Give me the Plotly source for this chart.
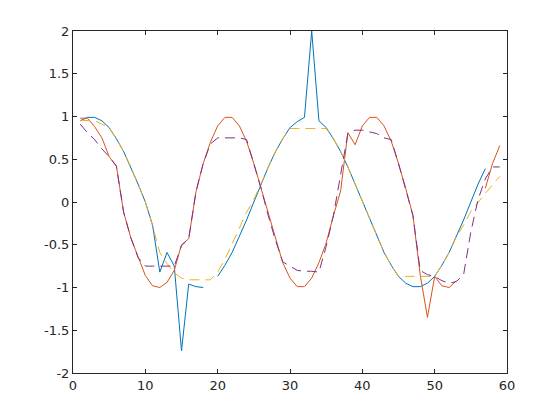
import plotly.graph_objects as go

x = list(range(1, 60))

blue = [0.95, 0.99, 0.99, 0.95, 0.87, 0.74, 0.59, 0.41, 0.21, 0.0,
        -0.27, -0.82, -0.59, -0.75, -1.74, -0.96, -0.99, -1.0, None, -0.87,
        -0.74, -0.59, -0.41, -0.21, 0.0, 0.21, 0.41, 0.59, 0.74, 0.87,
        0.94, 0.99, 2.0, 0.95, 0.87, 0.74, 0.59, 0.41, 0.21, 0.0,
        -0.21, -0.41, -0.59, -0.74, -0.87, -0.95, -0.99, -0.99, -0.95, -0.87,
        -0.74, -0.59, -0.41, -0.21, 0.0, 0.21, 0.39, None, None]

red = [0.98, 0.98, 0.88, 0.75, 0.53, 0.42, -0.12, -0.42, -0.64, -0.86,
       -0.98, -1.0, -0.94, -0.8, -0.5, -0.43, 0.12, 0.45, 0.7, 0.89,
       0.99, 0.99, 0.89, 0.71, 0.45, 0.16, -0.16, -0.45, -0.71, -0.89,
       -0.99, -0.99, -0.89, -0.71, -0.48, -0.16, 0.13, 0.81, 0.67, 0.89,
       0.99, 0.99, 0.89, 0.71, 0.45, 0.16, -0.16, -0.85, -1.35, -0.87,
       -0.98, -1.0, -0.92, None, None, None, 0.16, 0.45, 0.66]

yellow = [0.955, 0.955, 0.95, 0.91, 0.87, 0.74, 0.59, 0.41, 0.21, 0.0,
          -0.28, -0.59, -0.72, -0.83, -0.89, -0.91, -0.91, -0.91, -0.91, -0.82,
          -0.67, -0.49, -0.31, -0.12, 0.03, 0.21, 0.41, 0.59, 0.74, 0.86,
          0.86, 0.86, 0.86, 0.86, 0.86, 0.74, 0.59, 0.41, 0.21, 0.0,
          -0.21, -0.41, -0.59, -0.74, -0.87, -0.87, -0.87, -0.87, -0.87, -0.87,
          -0.74, -0.59, -0.41, -0.27, -0.11, 0.0, 0.1, 0.2, 0.3]

purple = [0.91, 0.81, 0.73, 0.62, 0.53, 0.42, -0.12, -0.42, -0.65, -0.75,
          -0.75, -0.75, -0.75, -0.75, -0.51, -0.43, 0.12, 0.45, 0.68, 0.75,
          0.75, 0.75, 0.75, 0.73, 0.45, 0.16, -0.16, -0.45, -0.7, -0.75,
          -0.8, -0.81, -0.81, -0.82, -0.52, -0.16, 0.3, 0.8, 0.84, 0.84,
          0.82, 0.8, 0.75, 0.73, 0.45, 0.16, -0.16, -0.8, -0.85, -0.87,
          -0.92, -0.95, -0.93, -0.85, -0.35, 0.03, 0.27, 0.41, 0.41]

xticks = [0, 10, 20, 30, 40, 50, 60]
xticklabels = ["0", "10", "20", "30", "40", "50", "60"]
yticks = [-2, -1.5, -1, -0.5, 0, 0.5, 1, 1.5, 2]
yticklabels = ["-2", "-1.5", "-1", "-0.5", "0", "0.5", "1", "1.5", "2"]

series = [
    (blue, "#0072BD", "solid"),
    (red, "#D95319", "solid"),
    (yellow, "#EDB120", "10px,6px"),
    (purple, "#7E2F8E", "10px,6px"),
]

fig = go.Figure()
for ys, col, dash in series:
    fig.add_trace(go.Scatter(x=x, y=ys, mode="lines",
                             line=dict(color=col, width=1, dash=dash),
                             connectgaps=False, showlegend=False))

axis_common = dict(showgrid=False, zeroline=False, showline=True,
                   linecolor="#262626", linewidth=1, mirror="ticks",
                   ticks="inside", ticklen=4, tickcolor="#262626",
                   tickfont=dict(family="DejaVu Sans", size=13, color="#262626"))

fig.update_layout(
    width=560, height=420,
    margin=dict(l=65, r=61, t=23, b=55),
    paper_bgcolor="white", plot_bgcolor="white",
    xaxis=dict(range=[0, 60], tickvals=xticks, ticktext=xticklabels, **axis_common),
    yaxis=dict(range=[-2, 2], tickvals=yticks, ticktext=yticklabels, **axis_common),
)

fig.write_html("out.html")
